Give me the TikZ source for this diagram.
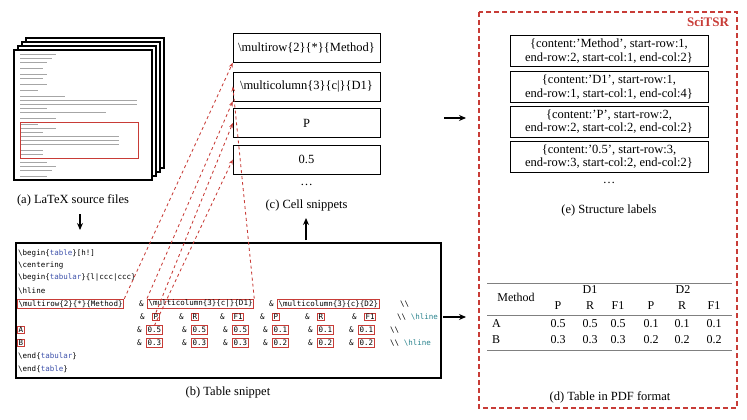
\documentclass[tikz,border=0pt]{standalone}
\usepackage{fontspec}
\setmainfont{Liberation Serif}
\setmonofont{DejaVu Sans Mono}
\usetikzlibrary{arrows.meta}
\definecolor{boxred}{RGB}{200,60,55}
\definecolor{kwblue}{RGB}{60,80,170}
\definecolor{kwteal}{RGB}{40,130,140}
\tikzset{
  page/.style={draw, line width=.5mm, fill=white},
  snip/.style={draw, minimum width=147pt, minimum height=29pt, inner sep=1pt, font=\fontsize{12.5}{13}\selectfont},
  lab/.style={draw, minimum width=198pt, minimum height=31pt, align=center, inner sep=1pt, font=\fontsize{12.5}{13.5}\selectfont},
  captxt/.style={font=\fontsize{12.5}{14}\selectfont},
  code/.style={anchor=west, inner sep=0pt, font=\ttfamily\fontsize{7.5}{8}\selectfont},
  cbox/.style={draw=boxred, line width=.35mm, inner sep=1.2pt, anchor=west, font=\ttfamily\fontsize{7.5}{8}\selectfont},
  link/.style={dashed, boxred, line width=.3mm, -{Stealth[length=5pt]}},
  flow/.style={line width=.5mm, -{Stealth[length=7pt,width=6pt]}},
  cell/.style={font=\fontsize{12}{13}\selectfont, inner sep=0pt},
}
\begin{document}
\begin{tikzpicture}[x=1pt,y=-1pt]
\useasboundingbox (0,0) rectangle (747,420);
% source files
\foreach \d in {3,2,1} {
  \draw [page] (14+8*\d/2,50-4*\d) rectangle ++(138,130);
}
\draw [page] (14,50) rectangle (152,180);
\foreach \y/\w in {54/40,58/35,62/30,68/25,74/30,78/25,84/30,90/20,96/50,100/130,104/130,108/30,112/95,118/40,124/20,128/40,132/25,136/110,140/110,144/110,150/25,154/25,162/30,166/40,170/35,176/30} {
  \draw [gray!70, line width=.3pt] (20,\y) -- ++(\w*0.9,0);
}
\draw [boxred, line width=.3mm] (20,122) rectangle (138,158);
\node [captxt] (capa) at (73,200) {(a) LaTeX source files};
\draw [flow] (80,214) -- (80,230);
% table snippet
\draw [line width=.5mm] (16,243) rectangle (441,378);
\node [code] (l1) at (18,253) {\textbackslash begin\{{\color{kwblue}table}\}[h!]};
\node [code] (l2) at (18,265) {\textbackslash centering};
\node [code] (l3) at (18,278) {\textbackslash begin\{{\color{kwblue}tabular}\}\{l|ccc|ccc\}};
\node [code] (l4) at (18,291) {\textbackslash hline};
\node [cbox] (mr) at (17,304) {\textbackslash multirow\{2\}\{*\}\{Method\}};
\node [cbox] (mc1) at (147,304) {\textbackslash multicolumn\{3\}\{c|\}\{D1\}};
\node [cbox] (mc2) at (277,304) {\textbackslash multicolumn\{3\}\{c\}\{D2\}};
\node [cbox] (ca) at (17,330) {A};
\node [cbox] (cb) at (17,343) {B};
\foreach \x in {139,269} \node [code] at (\x,304) {\&};
\node [code] at (400,304) {\textbackslash\textbackslash};
\foreach \x/\n/\t in {152/p1/P,191/r1/R,232/f1/F1,272/p2/P,317/r2/R,364/f2/F1} {
  \node [code] at (\x-12,317) {\&};
  \node [cbox] (\n) at (\x,317) {\t};
}
\node [code] at (397,317) {\textbackslash\textbackslash\ {\color{kwteal}\textbackslash hline}};
\foreach \x/\n/\a/\b in {146/va1/0.5/0.3,191/va2/0.5/0.3,232/va3/0.5/0.3,272/va4/0.1/0.2,317/va5/0.1/0.2,358/va6/0.1/0.2} {
  \node [code] at (\x-9,330) {\&};
  \node [cbox] (\n) at (\x,330) {\a};
  \node [code] at (\x-9,343) {\&};
  \node [cbox] at (\x,343) {\b};
}
\node [code] at (390,330) {\textbackslash\textbackslash};
\node [code] at (390,343) {\textbackslash\textbackslash\ {\color{kwteal}\textbackslash hline}};
\node [code] (l9) at (18,356) {\textbackslash end\{{\color{kwblue}tabular}\}};
\node [code] (l10) at (18,369) {\textbackslash end\{{\color{kwblue}table}\}};
\node [captxt] (capb) at (228,392) {(b) Table snippet};
% cell snippets
\node [snip] (s1) at (306.5,48) {\textbackslash multirow\{2\}\{*\}\{Method\}};
\node [snip] (s2) at (306.5,86.5) {\textbackslash multicolumn\{3\}\{c|\}\{D1\}};
\node [snip] (s3) at (306.5,123) {P};
\node [snip] (s4) at (306.5,159.5) {0.5};
\node [captxt] at (306.5,185) {\dots};
\node [captxt] (capc) at (306.5,205) {(c) Cell snippets};
\draw [flow] (306,240) -- (306,218);
\draw [link] (mr.north east) -- (s1.south west);
\draw [link] (mc1.north west) -- (s2.south west);
\draw [link] (mc1.north east) -- (s2.west);
\draw [link] (p1.north) -- (s3.west);
\draw [link] (va1.north) -- (s4.west);
% SciTSR
\draw [flow] (444,118) -- (466,118);
\draw [flow] (443,317) -- (466,317);
\draw [boxred, line width=.5mm, dash pattern=on 5pt off 3pt] (479,12) rectangle (737,408);
\node [boxred, font=\bfseries\fontsize{13}{14}\selectfont] at (708,22) {SciTSR};
\node [lab] (e1) at (609,51) {\{content:'Method', start-row:1,\\end-row:2, start-col:1, end-col:2\}};
\node [lab] (e2) at (609,87) {\{content:'D1', start-row:1,\\end-row:1, start-col:1, end-col:4\}};
\node [lab] (e3) at (609,121.5) {\{content:'P', start-row:2,\\end-row:2, start-col:2, end-col:2\}};
\node [lab] (e4) at (609,156.5) {\{content:'0.5', start-row:3,\\end-row:3, start-col:2, end-col:2\}};
\node [captxt] at (609,183) {\dots};
\node [captxt] (cape) at (609,210) {(e) Structure labels};
% PDF table
\draw [gray, line width=.5pt] (487,283) -- (732,283);
\draw [gray, line width=.5pt] (487,315) -- (732,315);
\draw [gray, line width=.5pt] (487,350) -- (732,350);
\node [cell] at (516,297) {Method};
\node [cell] at (590,290) {D1};
\node [cell] at (683,290) {D2};
\foreach \x/\t in {558/P,590/R,618/F1,651/P,682/R,714/F1} \node [cell] at (\x,306) {\t};
\node [cell, anchor=west] at (492,324) {A};
\node [cell, anchor=west] at (492,340) {B};
\foreach \x/\a/\b in {558/0.5/0.3,590/0.5/0.3,618/0.5/0.3,651/0.1/0.2,682/0.1/0.2,714/0.1/0.2} {
  \node [cell] at (\x,324) {\a};
  \node [cell] at (\x,340) {\b};
}
\node [captxt] (capd) at (610,397) {(d) Table in PDF format};
\end{tikzpicture}
\end{document}
